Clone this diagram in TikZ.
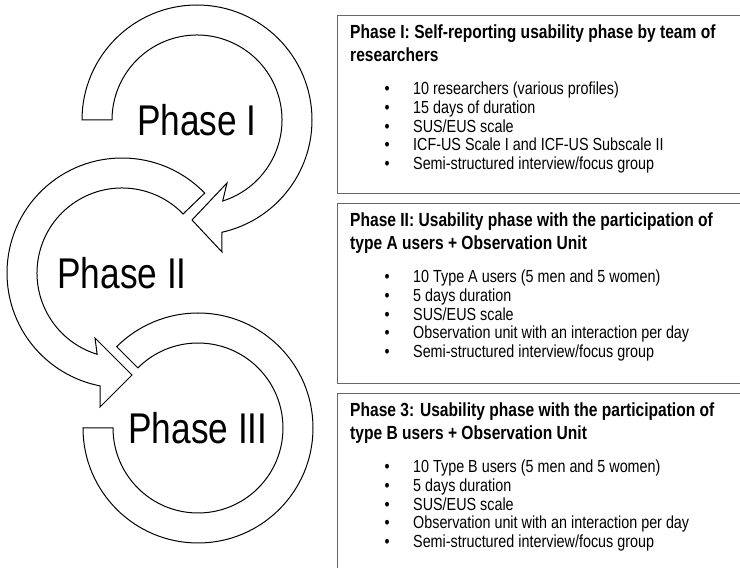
\documentclass[tikz,border=0pt]{standalone}
\usepackage{fontspec}
\setmainfont{Liberation Sans}[FakeStretch=0.82]
\newcommand{\itm}{\makebox[28.5pt][l]{\textbullet}}
\tikzset{
  ring/.style={draw=black,fill=white,line width=1pt,line join=miter},
  panel/.style={draw=black!60,line width=1pt,inner sep=0pt,anchor=north west,minimum width=410pt},
  label/.style={inner sep=0pt,font=\fontsize{43}{50}\selectfont},
  heading/.style={anchor=base west,inner sep=0pt,font=\bfseries\fontsize{19}{23}\selectfont},
  items/.style={anchor=base west,inner sep=0pt,font=\fontsize{17.5}{18.6}\selectfont}
}
\begin{document}
\begin{tikzpicture}[x=1pt,y=1pt]
\useasboundingbox (0,0) rectangle (740,568);

        % the three circular arrows
        \coordinate (c1) at (197,448);
        \coordinate (c2) at (122,295);
        \coordinate (c3) at (198,140);

        \draw[ring] ([shift={(180:115pt)}]c1) arc[start angle=180, end angle=-77.5, radius=115pt]
          -- ([shift={(25,-132)}]c1) -- ([shift={(-5,-100)}]c1) -- ([shift={(30,-63)}]c1)
          -- ([shift={(-72.4:85pt)}]c1) arc[start angle=-72.4, end angle=180, radius=85pt] -- cycle;
        \draw[ring] ([shift={(44:115pt)}]c2) arc[start angle=44, end angle=259, radius=115pt]
          -- ([shift={(-22,-134)}]c2) -- ([shift={(10,-102)}]c2) -- ([shift={(-27,-65)}]c2)
          -- ([shift={(253:85pt)}]c2) arc[start angle=253, end angle=44, radius=85pt] -- cycle;
        \draw[ring] ([shift={(180:115pt)}]c3) arc[start angle=180, end angle=495, radius=115pt]
          -- ([shift={(135:85pt)}]c3) arc[start angle=495, end angle=180, radius=85pt] -- cycle;

        \node[label] (l1) at (c1) {Phase I};
        \node[label] (l2) at (c2) {Phase II};
        \node[label] (l3) at (c3) {Phase III};

        % the three panels
        \node[panel,minimum height=178pt] (box1) at (337,553) {};
        \node[panel,minimum height=180pt] (box2) at (337,365) {};
        \node[panel,minimum height=180pt] (box3) at (337,175) {};

        \node[heading] (t1) at (350,529) {\begin{tabular}[t]{@{}l@{}}Phase I: Self-reporting usability phase by team of\\researchers\end{tabular}};
        \node[items] (i1) at (384.5,473) {\begin{tabular}[t]{@{}l@{}}
          \itm 10 researchers (various profiles)\\
          \itm 15 days of duration\\
          \itm SUS/EUS scale\\
          \itm ICF-US Scale I and ICF-US Subscale II\\
          \itm Semi-structured interview/focus group\end{tabular}};

        \node[heading] (t2) at (350,341) {\begin{tabular}[t]{@{}l@{}}Phase II: Usability phase with the participation of\\type A users + Observation Unit\end{tabular}};
        \node[items] (i2) at (384.5,285) {\begin{tabular}[t]{@{}l@{}}
          \itm 10 Type A users (5 men and 5 women)\\
          \itm 5 days duration\\
          \itm SUS/EUS scale\\
          \itm Observation unit with an interaction per day\\
          \itm Semi-structured interview/focus group\end{tabular}};

        \node[heading] (t3) at (350,151) {\begin{tabular}[t]{@{}l@{}}Phase 3: Usability phase with the participation of\\type B users + Observation Unit\end{tabular}};
        \node[items] (i3) at (384.5,95) {\begin{tabular}[t]{@{}l@{}}
          \itm 10 Type B users (5 men and 5 women)\\
          \itm 5 days duration\\
          \itm SUS/EUS scale\\
          \itm Observation unit with an interaction per day\\
          \itm Semi-structured interview/focus group\end{tabular}};

\end{tikzpicture}
\end{document}
